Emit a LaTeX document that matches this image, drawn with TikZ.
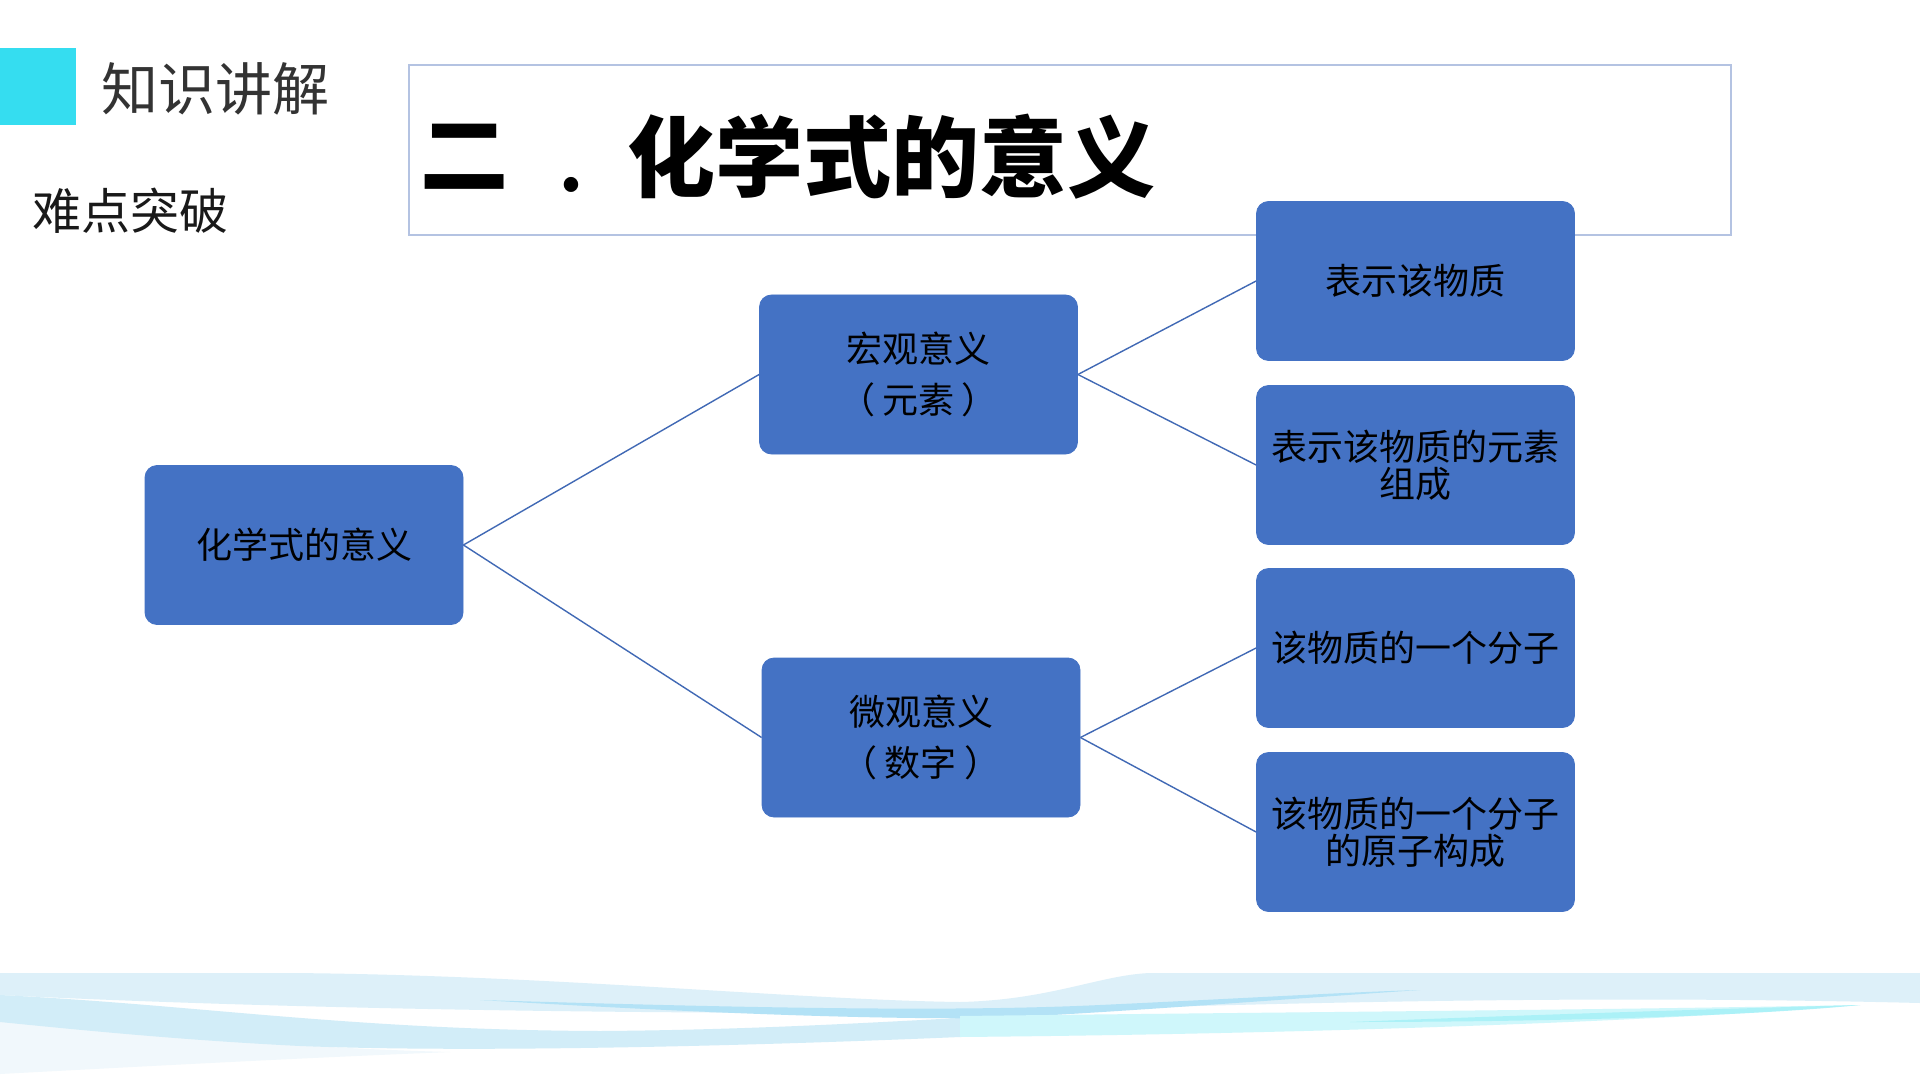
\documentclass[tikz,border=0pt]{standalone}
\usepackage{fontspec}
\newfontfamily\cjk{Noto Sans CJK SC}
\definecolor{boxblue}{HTML}{4472C4}
\definecolor{linkblue}{HTML}{4169B5}
\definecolor{cyansq}{HTML}{35DDF0}
\definecolor{titleborder}{HTML}{B4C3E2}
\definecolor{waveLight}{HTML}{DDF0F9}
\definecolor{waveMid}{HTML}{B3E2F6}
\definecolor{waveLow}{HTML}{D2EDF8}
\definecolor{waveCyan}{HTML}{CFF7FB}
\definecolor{waveTip}{HTML}{A2F0F7}
\definecolor{waveFaint}{HTML}{F1F8FC}
\tikzset{
  boxnode/.style={fill=boxblue, draw=boxblue, rounded corners=6pt, minimum width=159pt, minimum height=79.5pt, inner sep=0pt, align=center, text=black, font=\cjk\fontsize{18pt}{25.5pt}\selectfont},
  tightbox/.style={boxnode, font=\cjk\fontsize{18pt}{18.5pt}\selectfont},
  link/.style={draw=linkblue, line width=0.7pt},
  plain/.style={inner sep=0pt, anchor=west}
}
\begin{document}
\begin{tikzpicture}[x=0.5pt,y=-0.5pt]
\useasboundingbox (0,0) rectangle (1920,1080);
\fill[white] (0,0) rectangle (1920,1080);

% bottom wave decoration
\fill[waveFaint] (0,1020) .. controls (150,1035) and (300,1048) .. (450,1052)
  .. controls (300,1058) and (150,1066) .. (0,1074) -- cycle;
\fill[waveLight] (0,973) -- (290,973) .. controls (550,975) and (800,1000) .. (960,1002)
  .. controls (1050,1000) and (1100,975) .. (1150,973) -- (1920,973) -- (1920,1003)
  .. controls (1600,995) and (1300,1002) .. (1000,1012)
  .. controls (700,1015) and (300,1010) .. (0,995) -- cycle;
\fill[waveLow] (0,995) .. controls (200,1005) and (350,1030) .. (600,1031)
  .. controls (750,1030) and (880,1022) .. (960,1018) -- (960,1037)
  .. controls (700,1048) and (450,1052) .. (300,1046)
  .. controls (180,1040) and (80,1030) .. (0,1022) -- cycle;
\fill[waveMid] (480,1000) .. controls (750,1008) and (950,1012) .. (1100,1005)
  .. controls (1250,998) and (1350,992) .. (1420,990)
  .. controls (1300,998) and (1150,1010) .. (1000,1018)
  .. controls (850,1020) and (650,1010) .. (480,1000) -- cycle;
\fill[waveCyan] (960,1016) .. controls (1300,1012) and (1600,1010) .. (1860,1005)
  .. controls (1650,1022) and (1300,1034) .. (960,1037) -- cycle;
\fill[waveTip, opacity=0.8] (1350,1022) .. controls (1550,1014) and (1750,1008) .. (1860,1005)
  .. controls (1750,1016) and (1550,1022) .. (1350,1022) -- cycle;

% header
\fill[cyansq] (0,48) rectangle (76,125);
\node[plain, text=black!80, font=\cjk\fontsize{28.5pt}{30pt}\selectfont] (hdr) at (101,89) {知识讲解};
\node[plain, text=black!90, font=\cjk\fontsize{24.5pt}{26pt}\selectfont] (sub) at (32,211) {难点突破};

% title box
\draw[titleborder, line width=0.7pt] (409,65) rectangle (1731,235);
\node[plain, font=\cjk\bfseries\fontsize{44pt}{46pt}\selectfont] (title1) at (420,157) {二};
\node[inner sep=0pt, font=\cjk\bfseries\fontsize{34pt}{36pt}\selectfont] (titledot) at (571,185) {.};
\node[plain, font=\cjk\bfseries\fontsize{44pt}{46pt}\selectfont] (title2) at (627,157) {化学式的意义};

% nodes
\node[boxnode] (root) at (304,545) {化学式的意义};
\node[boxnode] (macro) at (918.5,374.5) {宏观意义\\（\hspace{0.2em}元素\hspace{0.2em}）};
\node[boxnode] (micro) at (921,737.5) {微观意义\\（\hspace{0.2em}数字\hspace{0.2em}）};
\node[boxnode] (r1) at (1415.5,281) {表示该物质};
\node[tightbox] (r2) at (1415.5,465) {表示该物质的元素\\组成};
\node[boxnode] (r3) at (1415.5,648) {该物质的一个分子};
\node[tightbox] (r4) at (1415.5,832) {该物质的一个分子\\的原子构成};

% connectors
\draw[link] (root.east) -- (macro.west);
\draw[link] (root.east) -- (micro.west);
\draw[link] (macro.east) -- (r1.west);
\draw[link] (macro.east) -- (r2.west);
\draw[link] (micro.east) -- (r3.west);
\draw[link] (micro.east) -- (r4.west);
\end{tikzpicture}
\end{document}
